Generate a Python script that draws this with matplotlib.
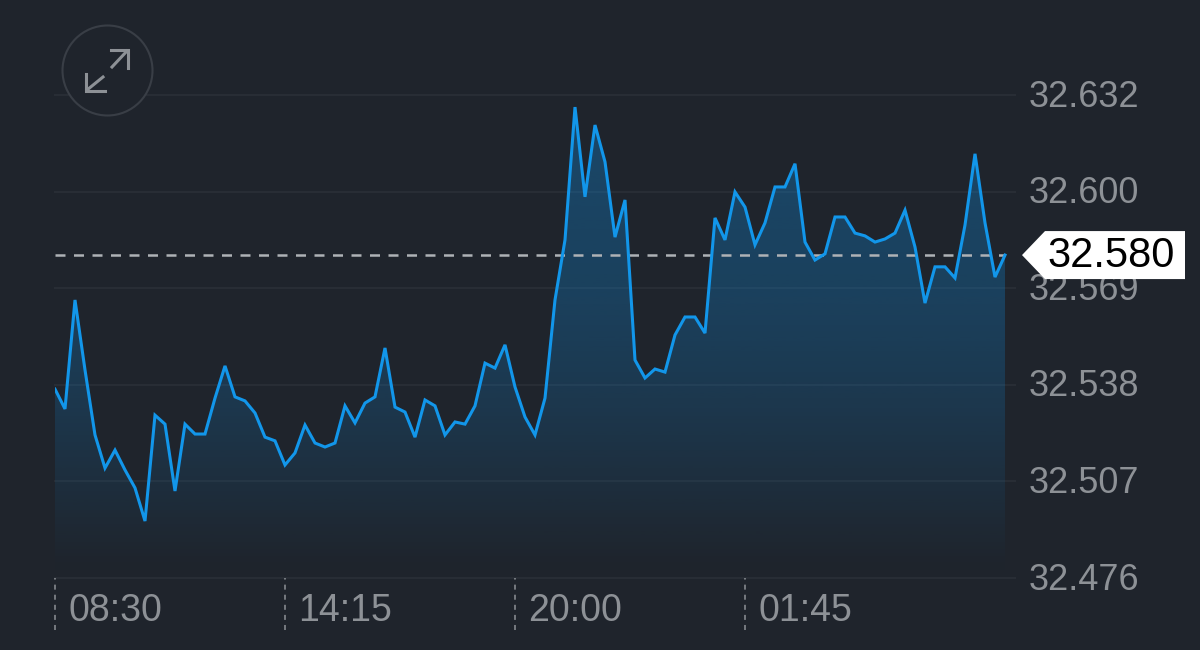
import numpy as np
import matplotlib
matplotlib.use("Agg")
import matplotlib.pyplot as plt
from matplotlib.patches import Circle, Polygon
from matplotlib.lines import Line2D
from matplotlib.transforms import IdentityTransform, Affine2D

# prezzo ogni 15 minuti
prices = [
    32.5370, 32.5306, 32.5658, 32.5432, 32.5222, 32.5115, 32.5173, 32.5109,
    32.5051, 32.4944, 32.5286, 32.5257, 32.5041, 32.5257, 32.5225, 32.5225,
    32.5341, 32.5445, 32.5345, 32.5332, 32.5293, 32.5215, 32.5203, 32.5125,
    32.5164, 32.5254, 32.5196, 32.5183, 32.5196, 32.5316, 32.5261, 32.5325,
    32.5345, 32.5503, 32.5312, 32.5296, 32.5215, 32.5335, 32.5316, 32.5222,
    32.5264, 32.5257, 32.5316, 32.5454, 32.5438, 32.5513, 32.5377, 32.5280,
    32.5222, 32.5341, 32.5658, 32.5852, 32.6281, 32.5991, 32.6223, 32.6104,
    32.5861, 32.5981, 32.5464, 32.5406, 32.5435, 32.5425, 32.5545, 32.5603,
    32.5603, 32.5551, 32.5923, 32.5852, 32.6007, 32.5958, 32.5836, 32.5907,
    32.6023, 32.6023, 32.6098, 32.5845, 32.5787, 32.5807, 32.5926, 32.5926,
    32.5874, 32.5865, 32.5845, 32.5855, 32.5874, 32.5948, 32.5829, 32.5648,
    32.5765, 32.5765, 32.5729, 32.5900, 32.6130, 32.5907, 32.5732, 32.5803,
]
last_label = "32.580"

y_ticks = [32.4760, 32.5072, 32.5384, 32.5696, 32.6008, 32.6320]
y_labels = ["32.476", "32.507", "32.538", "32.569", "32.600", "32.632"]
x_ticks = [0, 23, 46, 69]
x_labels = ["08:30", "14:15", "20:00", "01:45"]

BG = "#1f242c"
GRID = "#292e36"
BLUE = "#1296ea"
GREY = "#8d9196"

plt.rcParams['font.family'] = ['Liberation Sans', 'DejaVu Sans']

fig = plt.figure(figsize=(12, 6.5), dpi=100, facecolor=BG)
ax = fig.add_axes([55/1200, 72/650, 960/1200, 483/650], facecolor=BG)
x = np.arange(len(prices))

# sfumatura sotto la linea
stops_y = [0, 0.04, 0.154, 0.354, 0.575, 1.0]
stops_a = [0.0, 0.01, 0.07, 0.17, 0.25, 0.32]
rows = np.linspace(1, 0, 256)
grad = np.zeros((256, 1, 4))
grad[:, :, :3] = matplotlib.colors.to_rgb("#0f96f0")
grad[:, 0, 3] = np.interp(rows, stops_y, stops_a)
im = ax.imshow(grad, aspect='auto', extent=[0, len(prices)-1, y_ticks[0], y_ticks[-1]], zorder=1)
fill = ax.fill_between(x, prices, y_ticks[0], color='none')
im.set_clip_path(fill.get_paths()[0], transform=ax.transData)

ax.plot(x, prices, color=BLUE, lw=2.2, solid_joinstyle='miter', zorder=4)
ax.plot([0, len(prices)-1], [prices[-1], prices[-1]], color="#aeb2b6", lw=1.8,
        ls=(0, (4, 3.4)), zorder=3)

ax.set_xlim(0, 96)
ax.set_ylim(y_ticks[0], y_ticks[-1])
for s in ax.spines.values():
    s.set_visible(False)

ax.set_yticks(y_ticks, labels=y_labels)
ax.yaxis.tick_right()
ax.tick_params(axis='y', length=0, pad=10, labelsize=26, labelcolor=GREY)
ax.grid(axis='y', color=GRID, lw=1.4, zorder=2)
ax.set_axisbelow(True)
for gl in ax.get_ygridlines():
    gl.set_clip_on(False)
for lab in ax.get_yticklabels():
    lab.set_transform(lab.get_transform() + Affine2D().translate(0, 2))

# tacche tratteggiate e orari
ax.set_xticks([])
ax.vlines(x_ticks, -52/483, 0, transform=ax.get_xaxis_transform(), clip_on=False,
          color=GREY, lw=1.1, ls=(0, (3.3, 3.3)), zorder=3)
for t, lab in zip(x_ticks, x_labels):
    ax.annotate(lab, (t, 0), xycoords=ax.get_xaxis_transform(), xytext=(13, -33),
                textcoords='offset pixels', ha='left', va='center', fontsize=27, color=GREY)

# etichetta ultimo prezzo
fig.canvas.draw()
tr = IdentityTransform()
py = ax.transData.transform((0, prices[-1]))[1]
tag = Polygon([(1022, py), (1045, py+24), (1185, py+24), (1185, py-24), (1045, py-24)],
              closed=True, fc="white", ec="none", transform=tr, clip_on=False, zorder=10)
ax.add_patch(tag)
ax.text(1111, py-1, last_label, transform=tr, ha='center', va='center', fontsize=30,
        color="black", zorder=11, clip_on=False)

# icona espandi
ax.add_patch(Circle((107.5, 650-70.5), 45, fc=BG, ec="#393e46", lw=1.5, transform=tr,
                    clip_on=False, zorder=6))
icon = [
    ([112, 127], [67, 51]),
    ([111, 128, 128], [50, 50, 68]),
    ([103, 87], [77, 90]),
    ([86, 86, 105], [74, 91, 91]),
]
for xs, ys in icon:
    ax.add_line(Line2D(xs, [650-v for v in ys], color=GREY, lw=2.2, transform=tr,
                       clip_on=False, zorder=7, solid_joinstyle='miter'))

fig.savefig("out.png", dpi=100, facecolor=BG)
